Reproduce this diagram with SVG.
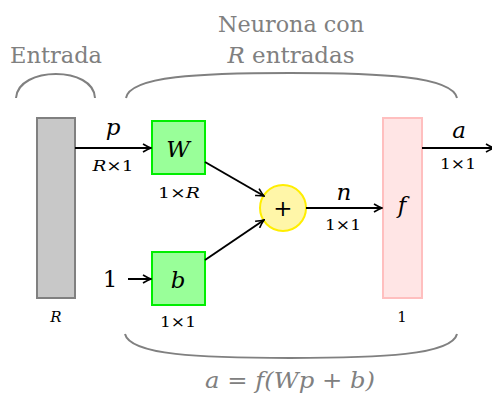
<svg xmlns="http://www.w3.org/2000/svg" width="492" height="395" viewBox="0 0 492 395">
<style>
text{font-family:'DejaVu Serif',serif;text-anchor:middle;fill:#000}
.g{fill:#808080;font-size:22px}
.it{font-style:italic}
.big{font-size:23px}
.sm{font-size:15px}
.brace{fill:none;stroke:#808080;stroke-width:2}
.conn line{stroke:#000;stroke-width:2}
</style>
<defs>
<marker id="arr" viewBox="0 0 10 10" refX="9" refY="5" markerWidth="10" markerHeight="10" markerUnits="userSpaceOnUse" orient="auto">
<path d="M1,1 Q6,4 9,5 Q6,6 1,9" fill="none" stroke="#000" stroke-width="1.6"/>
</marker>
</defs>
<rect width="492" height="395" fill="#fff"/>
<g id="braces">
<path class="brace" d="M16,98 C18,66 94,66 95,98"/>
<path class="brace" d="M126,98 C130,76 200,73 290,73 C380,73 452,76 457,98"/>
<path class="brace" d="M125,334 C130,355 200,358 290,358 C380,358 452,355 457,334"/>
<text class="g" x="56" y="63" textLength="92" lengthAdjust="spacingAndGlyphs">Entrada</text>
<text class="g" x="291" y="32" textLength="146" lengthAdjust="spacingAndGlyphs">Neurona con</text>
<text class="g" x="291" y="63" textLength="127" lengthAdjust="spacingAndGlyphs"><tspan class="it">R</tspan> entradas</text>
<text class="g it" x="290" y="388" textLength="170" lengthAdjust="spacingAndGlyphs">a = f(Wp + b)</text>
</g>
<g id="input">
<rect x="37" y="118" width="38" height="180" fill="#c8c8c8" stroke="#808080" stroke-width="2"/>
<text class="sm it" x="56" y="322">R</text>
</g>
<g id="W">
<rect x="152" y="121" width="53" height="53" fill="#99ff99" stroke="#00ee00" stroke-width="2"/>
<text class="big it" x="178" y="157">W</text>
<text class="sm" x="179" y="198" textLength="42" lengthAdjust="spacingAndGlyphs">1×<tspan class="it">R</tspan></text>
</g>
<g id="b">
<rect x="152" y="252" width="53" height="53" fill="#99ff99" stroke="#00ee00" stroke-width="2"/>
<text class="big it" x="178" y="288">b</text>
<text class="sm" x="178" y="327" textLength="36" lengthAdjust="spacingAndGlyphs">1×1</text>
</g>
<g id="one">
<text class="big" x="110" y="287">1</text>
</g>
<g id="sum">
<circle cx="283" cy="208" r="23" fill="#fff6a8" stroke="#ffee00" stroke-width="2"/>
<text class="big" x="283" y="216">+</text>
</g>
<g id="f">
<rect x="383" y="118" width="39" height="180" fill="#ffe5e5" stroke="#ffbfbf" stroke-width="2"/>
<text class="big it" x="402" y="213">f</text>
<text class="sm" x="402" y="322">1</text>
</g>
<g class="conn" id="connectors">
<line x1="75" y1="148" x2="151" y2="148" marker-end="url(#arr)"/>
<line x1="128" y1="279" x2="151" y2="279" marker-end="url(#arr)"/>
<line x1="205" y1="162" x2="264" y2="196" marker-end="url(#arr)"/>
<line x1="205" y1="260" x2="264" y2="220" marker-end="url(#arr)"/>
<line x1="306" y1="208" x2="382" y2="208" marker-end="url(#arr)"/>
<line x1="422" y1="148" x2="494" y2="148" marker-end="url(#arr)"/>
<text class="big it" x="113" y="135">p</text>
<text class="sm" x="113" y="171" textLength="41" lengthAdjust="spacingAndGlyphs"><tspan class="it">R</tspan>×1</text>
<text class="big it" x="344" y="200">n</text>
<text class="sm" x="343" y="230" textLength="36" lengthAdjust="spacingAndGlyphs">1×1</text>
<text class="big it" x="459" y="138">a</text>
<text class="sm" x="458" y="169" textLength="36" lengthAdjust="spacingAndGlyphs">1×1</text>
</g>
</svg>
